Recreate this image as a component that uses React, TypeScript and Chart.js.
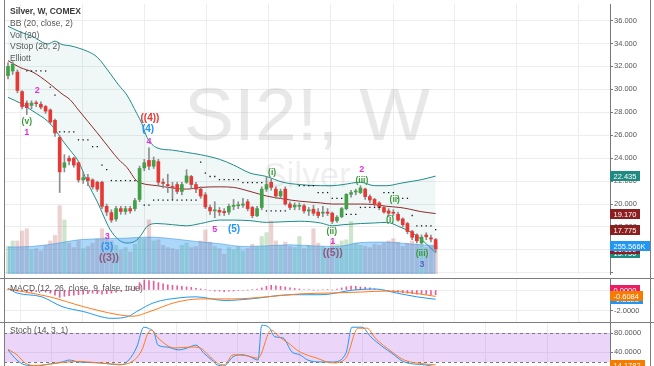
import React, { useEffect, useRef } from "react";
import { Chart, registerables } from "chart.js";

Chart.register(...registerables);

const FONT = '"Liberation Sans", Arial, sans-serif';

// ---------- weekly candles (index 0..91) ----------
const opens = [31.2, 31.6, 31.5, 29.8, 28.8, 28.6, 28.8, 28.7, 28.5, 28.2,
  27.3, 25.8, 23.2, 24.0, 24.0, 23.6, 22.1, 22.3, 22.1, 21.9,
  21.9, 19.8, 19.25, 18.7, 19.6, 19.35, 19.6, 19.6, 20.4, 23.15,
  23.8, 23.3, 23.7, 21.9, 21.7, 21.5, 21.7, 21.1, 21.9, 22.4,
  21.7, 21.3, 20.8, 19.7, 19.4, 19.45, 19.35, 19.3, 19.8, 19.85,
  19.9, 20.2, 19.7, 18.98, 19.7, 21.3, 21.9, 21.3, 20.7, 21.3,
  20.0, 19.75, 19.8, 19.85, 19.4, 19.55, 19.3, 19.2, 19.3, 19.2,
  18.55, 18.9, 19.6, 20.85, 21.05, 21.0, 21.3, 20.65, 20.4, 20.1,
  19.7, 19.4, 19.25, 19.1, 18.7, 18.3, 17.6, 17.3, 16.6, 17.3,
  17.05, 16.9];
const closes = [32.0, 32.2, 29.9, 28.5, 28.4, 28.8, 28.75, 28.45, 28.1, 27.15,
  26.2, 22.8, 23.6, 23.75, 23.4, 22.1, 22.3, 22.05, 21.5, 21.3,
  19.8, 19.3, 18.6, 19.6, 19.35, 19.6, 19.4, 20.3, 23.1, 23.6,
  23.3, 23.8, 21.9, 21.8, 21.6, 21.45, 21.1, 21.7, 22.45, 21.7,
  21.3, 20.7, 19.75, 19.4, 19.45, 19.3, 19.25, 19.8, 19.8, 19.9,
  20.0, 19.6, 18.98, 19.6, 21.3, 21.7, 21.45, 20.7, 21.1, 20.0,
  19.7, 19.9, 19.8, 19.4, 19.4, 19.2, 19.0, 19.25, 19.2, 18.5,
  18.85, 19.6, 20.85, 21.0, 21.1, 21.4, 20.65, 20.35, 20.0, 19.7,
  19.3, 19.2, 19.2, 18.6, 18.2, 17.6, 17.1, 16.8, 17.1, 17.15,
  16.95, 16.1];
const highs = [32.3, 32.4, 31.7, 29.9, 29.0, 29.0, 29.0, 28.9, 28.6, 28.3,
  27.4, 26.0, 24.3, 24.2, 24.1, 23.7, 22.8, 22.6, 22.2, 22.0,
  22.0, 20.0, 19.5, 19.8, 19.8, 19.8, 19.8, 20.5, 23.3, 23.9,
  24.9, 24.1, 23.9, 22.2, 22.6, 21.9, 21.9, 21.9, 23.0, 22.5,
  21.9, 21.5, 21.0, 19.9, 20.2, 19.7, 19.6, 20.0, 20.4, 20.2,
  20.5, 20.4, 19.8, 19.8, 21.5, 22.4, 22.2, 21.5, 21.3, 21.5,
  20.2, 20.1, 20.1, 20.0, 19.7, 19.9, 19.6, 19.8, 19.6, 19.3,
  19.0, 19.7, 20.9, 21.2, 21.3, 21.6, 21.4, 20.8, 20.5, 20.2,
  19.8, 19.6, 19.5, 19.3, 18.8, 18.4, 17.7, 17.4, 17.3, 17.5,
  17.3, 17.0];
const lows = [30.9, 31.3, 29.7, 28.3, 27.8, 28.3, 28.5, 28.3, 27.9, 27.0,
  25.9, 21.0, 22.8, 23.4, 23.2, 21.9, 21.8, 21.6, 21.3, 21.1,
  19.6, 19.0, 18.4, 18.5, 19.1, 19.1, 19.2, 19.4, 20.2, 22.9,
  23.0, 23.1, 21.6, 21.4, 21.0, 20.4, 20.9, 20.8, 21.8, 21.4,
  21.0, 20.5, 19.6, 19.1, 18.8, 19.0, 19.0, 19.1, 19.5, 19.6,
  19.7, 19.4, 18.8, 18.9, 19.5, 21.1, 21.2, 20.5, 20.5, 19.9,
  19.5, 19.5, 19.5, 19.2, 19.0, 19.0, 18.8, 18.9, 19.0, 18.3,
  18.4, 18.8, 19.5, 20.6, 20.8, 20.9, 20.4, 20.1, 19.8, 19.5,
  19.2, 18.9, 19.0, 18.5, 18.0, 17.4, 16.9, 16.6, 16.5, 16.9,
  16.7, 15.8];
const volumes = [250, 300, 300, 390, 410, 220, 230, 210, 260, 300,
  350, 620, 490, 280, 240, 300, 230, 250, 280, 320,
  410, 330, 300, 260, 220, 240, 200, 270, 330, 320,
  490, 300, 310, 260, 240, 230, 220, 260, 280, 240,
  250, 300, 400, 290, 250, 230, 180, 240, 220, 250,
  210, 230, 270, 250, 340, 375, 480, 300, 260, 290,
  250, 240, 340, 230, 260, 410, 280, 250, 230, 300,
  270, 300, 310, 475, 280, 260, 250, 240, 270, 260,
  280, 300, 320, 290, 250, 280, 300, 270, 260, 240,
  250, 256];

// ---------- Vol (20) moving average ----------
const volMaIdx = [0, 5, 10, 15, 20, 25, 30, 35, 40, 45, 50, 55, 60, 65, 70, 75, 80, 85, 91];
const volMaVals = [245, 250, 275, 310, 320, 325, 335, 320, 295, 275, 250, 255, 265, 255, 250, 285, 290, 275, 256];

// ---------- Bollinger Bands (20, close, 2) ----------
const bbIdx = [0, 2.6, 5.3, 8.5, 10, 11.5, 13.2, 15, 17, 19, 21.7, 23.5, 25.3, 27.4, 28.5, 29.6, 31.7, 35, 38, 41, 45, 48, 51.5, 55, 58.5, 62, 66.5, 69, 71.3, 75, 78, 80.6, 83.4, 85.5, 87.7, 91];
const bbUpper = [35.5, 35.0, 34.6, 33.95, 34.2, 33.9, 33.8, 33.6, 33.3, 32.8, 31.4, 30.4, 29.5, 27.9, 27.0, 25.8, 24.9, 24.7, 24.5, 24.3, 23.9, 23.4, 22.7, 22.4, 21.9, 21.7, 21.6, 21.6, 21.7, 21.9, 21.6, 21.6, 21.8, 21.95, 22.1, 22.435];
const bbBasis = [32.5, 31.9, 31.5, 30.6, 30.1, 29.6, 29.1, 28.2, 27.2, 26.2, 24.8, 23.9, 23.2, 22.0, 21.8, 21.7, 21.6, 21.4, 21.3, 21.45, 21.5, 21.45, 21.1, 20.7, 20.45, 20.25, 20.1, 20.0, 20.0, 20.0, 19.95, 19.8, 19.7, 19.55, 19.35, 19.17];
const bbLower = [29.3, 28.8, 28.1, 27.2, 26.5, 25.6, 24.7, 23.7, 21.8, 20.2, 17.8, 16.9, 16.6, 16.85, 17.4, 18.05, 18.3, 18.2, 18.1, 18.3, 18.6, 18.6, 18.55, 18.4, 18.45, 18.5, 18.35, 18.1, 18.2, 18.3, 18.35, 18.4, 18.0, 17.6, 17.0, 15.75];

// ---------- VStop (20, 2) ----------
const vstopIdx = [4, 5, 6, 7, 8, 9, 10, 11, 12, 13, 14, 15, 16, 17, 18, 19, 20, 21, 22, 23, 24, 25, 26, 27,
  29, 30, 31, 32, 33, 34, 35, 36, 37, 38, 39, 40, 41, 42, 43, 44, 45, 46, 47, 48, 49, 50, 51, 52, 53, 54,
  55, 56, 57, 58, 59, 62, 63, 64, 65, 66, 67, 68, 69, 70, 71, 72, 73, 74, 75, 76, 77, 78, 79,
  80, 81, 82, 83, 84, 85, 86, 87, 88, 89, 90, 91];
const vstopVals = [31.6, 31.6, 31.6, 31.6, 31.6, 30.2, 29.5, 26.3, 26.3, 26.3, 26.3, 25.6, 25.6, 25.6, 25.0, 25.0, 23.4, 23.0, 22.05, 22.05, 22.05, 22.05, 22.05, 22.05,
  19.9, 19.9, 20.35, 20.35, 20.35, 20.35, 20.35, 20.35, 20.35, 20.35, 20.35, 20.35, 23.65, 22.7, 22.4, 22.4, 22.13, 22.13, 22.13, 22.13, 22.13, 21.87, 21.87, 21.87, 21.87, 21.87,
  19.4, 19.4, 19.4, 19.4, 19.4, 21.6, 21.6, 21.6, 21.6, 21.0, 21.0, 21.0, 20.5, 20.5, 20.5, 19.1, 19.1, 19.1, 19.7, 19.7, 19.7, 19.7, 19.7,
  21.0, 21.0, 21.0, 20.5, 20.5, 20.5, 19.0, 18.1, 18.1, 18.1, 18.1, 17.775];

// ---------- MACD (12, 26, close, 9) ----------
const macdIdx = [0, 1.9, 7.2, 11.5, 16, 22.1, 25.7, 27.4, 31.1, 36.4, 40, 46.2, 51.5, 60.4, 66.6, 73.6, 78.1, 82.6, 87, 91];
const macdVals = [0.15, -0.28, -0.65, -1.58, -2.05, -2.7, -2.5, -2.05, -1.2, -0.75, -0.65, -1.0, -0.85, -0.45, -0.45, 0.0, 0.1, -0.28, -0.65, -0.88];
const signalIdx = [0, 3.6, 8.9, 16, 23.2, 26.6, 30.2, 35.5, 40.9, 47.9, 55.1, 62.1, 69.1, 75.3, 80.6, 86, 91];
const signalVals = [0.1, -0.19, -0.65, -1.58, -2.33, -2.5, -2.05, -1.2, -0.85, -0.85, -0.65, -0.37, -0.28, -0.19, -0.1, -0.28, -0.61];
const macdHist = [0.1, 0.05, -0.1, -0.15, -0.2,
  -0.2, -0.15, -0.1, -0.2, -0.3,
  -0.5, -0.7, -0.6, -0.55, -0.5, -0.45, -0.4, -0.35, -0.3,
  -0.35, -0.4, -0.35, -0.3, -0.2, -0.1, -0.05, 0.1, 0.3,
  0.7, 0.95, 0.9, 0.85, 0.7, 0.6, 0.5,
  0.45, 0.4, 0.35, 0.3, 0.25, 0.15, 0.1, 0.05, -0.05,
  -0.1, -0.1, -0.15, -0.1, -0.1, -0.05, -0.05, 0, 0.05, 0.1, 0.2,
  0.35, 0.45, 0.4, 0.35, 0.3, 0.2,
  0.15, 0.1, 0.05, 0.05, 0, 0, 0.05, 0.05, 0, 0.1, 0.2, 0.3,
  0.37, 0.35, 0.3, 0.25, 0.2,
  0.1, 0.05, 0, -0.05, -0.1,
  -0.2, -0.25, -0.3, -0.35, -0.4, -0.35, -0.4, -0.45, -0.45];

// ---------- Stoch (14, 3, 1) ----------
const kIdx = [0, 1.9, 3.6, 6, 9, 11.5, 13, 15.1, 19.6, 24, 25.7, 27.4, 28.9, 29.8, 31.1, 31.9, 33.8, 36.4, 38.1, 40, 41.7, 43.4, 44.5, 46, 47.9, 49.8, 51.5, 53.2, 54, 55.5, 56.8, 58.5, 60.4, 62.1, 63.8, 66.6, 69.1, 71.9, 73.2, 75.3, 77.2, 79.8, 81.7, 84.3, 88.7, 91];
const kVals = [45, 24, 14, 12, 16, 20, 24, 20, 18, 14, 24, 51, 92, 90, 80, 55, 51, 45, 49, 55, 38, 24, 14, 12, 31, 35, 31, 24, 96, 92, 72, 70, 41, 35, 24, 20, 20, 38, 92, 92, 72, 51, 38, 20, 14, 10];
const dIdx = [0, 1.9, 3.6, 6, 10, 11.5, 15.1, 19.6, 24, 26.6, 28.5, 29.8, 30.6, 31.9, 35.5, 39.1, 40.9, 42.6, 44.5, 46, 47.9, 50.7, 53.2, 56, 57.7, 59.4, 62.1, 65.7, 69.1, 71.9, 74.5, 76.4, 78.1, 81.7, 84.3, 88.7, 91];
const dVals = [46, 35, 18, 13, 17, 19, 21, 18, 15, 22, 45, 80, 86, 70, 49, 51, 49, 35, 18, 14, 35, 33, 28, 86, 72, 61, 41, 28, 18, 28, 90, 90, 70, 41, 24, 16, 14];
const stochBand = [20, 80];

// ---------- Elliott wave labels ----------
const waveTexts = ["(v)", "1", "2", "((4))", "(4)", "4", "3", "(3)", "((3))", "5", "(5)", "(i)", "(ii)", "1", "((5))", "2", "(iii)", "(ii)", "(i)", "(iii)", "3"];
const waveIdx = [4, 4, 6.2, 30.2, 29.8, 30, 21.1, 21.1, 21.5, 44, 48.1, 56.2, 68.9, 69.1, 69.1, 75.3, 75.3, 82.3, 81.3, 88.1, 88.1];
const wavePrices = [27.2, 26.2, 29.9, 27.5, 26.5, 25.45, 17.2, 16.25, 15.3, 17.8, 17.8, 22.7, 17.6, 16.7, 15.75, 23.0, 22.05, 20.4, 18.6, 15.65, 14.7];
const waveKinds = ["g", "m", "m", "r", "b", "m", "m", "b", "p", "m", "b", "g", "g", "m", "p", "m", "g", "g", "g", "g", "v"];

// ---------- texts ----------
const legendLines = ["Silver, W, COMEX", "BB (20, close, 2)", "Vol (20)", "VStop (20, 2)", "Elliott"];
const macdTitle = "MACD (12, 26, close, 9, false, true)";
const stochTitle = "Stoch (14, 3, 1)";
const watermarkMain = "SI2!, W";
const watermarkSub = "Silver";

// ---------- axis value tags ----------
const mainTagValues = [15.75, 16.1, 17.775, 19.17, 22.435];
const mainTagTexts = ["15.750", "16.100", "17.775", "19.170", "22.435"];
const mainTagKinds = ["teal", "red", "red", "red", "teal"];
const volTagValue = 255.566;
const volTagText = "255.566K";
const macdTagValues = [0.0, -0.88, -0.6084];
const macdTagTexts = ["0.0000", "-0.8823", "-0.6084"];
const macdTagKinds = ["pink", "blue", "orange"];
const stochTagValues = [14.18];
const stochTagTexts = ["14.1782"];
const stochTagKinds = ["orange"];
const MIN_PRICE_LABEL = 15;

// ---------- x grid (index positions) ----------
const gridIdx = [9.36, 22.55, 35.75, 48.94, 62.13, 75.33, 88.52, 101.71, 114.9];
const X_MIN = -0.85;
const X_MAX = 128.1;

const UP = "#43a047";
const DOWN = "#e53935";
const TAG_COLORS: Record<string, string> = {
  teal: "#1e8a82", red: "#8b1f1f", blue: "#2196f3", orange: "#f57c00", pink: "#e91e63",
};
const WAVE_STYLE: Record<string, { color: string; font: string }> = {
  g: { color: "#3a9a3a", font: `bold 8.5px ${FONT}` },
  m: { color: "#e030e0", font: `bold 9px ${FONT}` },
  b: { color: "#2196f3", font: `bold 10px ${FONT}` },
  r: { color: "#e53935", font: `bold 10px ${FONT}` },
  p: { color: "#8c5a80", font: `bold 10.5px ${FONT}` },
  v: { color: "#6a5acd", font: `bold 9px ${FONT}` },
};

const pts = (xs: number[], ys: number[]) => xs.map((x, i) => ({ x, y: ys[i] }));

function xScale(): any {
  return {
    type: "linear",
    min: X_MIN,
    max: X_MAX,
    offset: false,
    ticks: { display: false },
    grid: { color: "#ededed", drawTicks: false },
    border: { display: false },
    afterBuildTicks: (s: any) => {
      s.ticks = gridIdx.map((v) => ({ value: v }));
    },
    afterFit: (s: any) => {
      s.height = 0;
      s.paddingLeft = 0;
      s.paddingRight = 0;
    },
  };
}

function yScale(min: number, max: number, step: number, decimals: number, minLabel?: number): any {
  return {
    position: "right",
    min,
    max,
    ticks: {
      stepSize: step,
      includeBounds: false,
      padding: 1,
      color: "#555",
      font: { size: 7.5, family: FONT },
      callback: (v: any) => (minLabel !== undefined && Number(v) < minLabel ? "" : Number(v).toFixed(decimals)),
    },
    grid: { color: "#ededed", tickLength: 3, tickColor: "#777" },
    border: { display: true, color: "#777" },
    afterFit: (s: any) => {
      s.width = 44;
      s.paddingTop = 0;
      s.paddingBottom = 0;
    },
  };
}

function drawTag(chart: any, scaleId: string, value: number, text: string, bg: string) {
  const ctx = chart.ctx;
  const s = chart.scales[scaleId];
  const y = Math.round(s.getPixelForValue(value));
  ctx.save();
  ctx.font = `7.5px ${FONT}`;
  const w = Math.ceil(ctx.measureText(text).width) + 7;
  const x0 = chart.chartArea.right;
  ctx.fillStyle = bg;
  ctx.fillRect(x0, y - 5, w, 10);
  ctx.fillStyle = "#fff";
  ctx.textBaseline = "middle";
  ctx.textAlign = "left";
  ctx.fillText(text, x0 + 3.5, y + 0.5);
  ctx.restore();
}

function titlePlugin(lines: string[], firstBold: boolean, y0: number, step: number) {
  return {
    id: "titles",
    afterDraw(chart: any) {
      const ctx = chart.ctx;
      ctx.save();
      ctx.textBaseline = "middle";
      ctx.textAlign = "left";
      lines.forEach((t, i) => {
        ctx.font = i === 0 && firstBold ? `bold 8.5px ${FONT}` : `8.5px ${FONT}`;
        ctx.fillStyle = i === 0 && firstBold ? "#3a3a3a" : "#555";
        ctx.fillText(t, 10, y0 + i * step);
      });
      ctx.restore();
    },
  };
}

function mainConfig(): any {
  const n = closes.length;
  const idx = Array.from({ length: n }, (_, i) => i);
  return {
    type: "bar",
    data: {
      datasets: [
        {
          type: "line", data: pts(bbIdx, bbUpper), borderColor: "#218a8a", borderWidth: 1,
          pointRadius: 0, cubicInterpolationMode: "monotone", fill: "+1",
          backgroundColor: "rgba(25,135,135,0.07)", order: 10,
        },
        {
          type: "line", data: pts(bbIdx, bbLower), borderColor: "#218a8a", borderWidth: 1,
          pointRadius: 0, cubicInterpolationMode: "monotone", fill: false, order: 10,
        },
        {
          type: "bar", yAxisID: "yVol", data: idx.map((i) => ({ x: i, y: volumes[i] })),
          backgroundColor: idx.map((i) => (closes[i] >= opens[i] ? "rgba(90,170,90,0.3)" : "rgba(200,110,110,0.32)")),
          barThickness: 3.5, grouped: false, order: 9,
        },
        {
          type: "line", yAxisID: "yVol", data: pts(volMaIdx, volMaVals), borderColor: "rgba(66,150,220,0.55)",
          borderWidth: 1, pointRadius: 0, fill: "origin", backgroundColor: "rgba(33,150,243,0.38)",
          cubicInterpolationMode: "monotone", order: 8,
        },
        {
          type: "line", data: pts(bbIdx, bbBasis), borderColor: "#8e2b2b", borderWidth: 1,
          pointRadius: 0, cubicInterpolationMode: "monotone", fill: false, order: 7,
        },
        {
          type: "bar", data: idx.map((i) => ({ x: i, y: [lows[i], highs[i]] })),
          backgroundColor: "#8d8d8d", barThickness: 1, grouped: false, order: 3,
        },
        {
          type: "bar", data: idx.map((i) => ({ x: i, y: [opens[i], closes[i]] })),
          backgroundColor: idx.map((i) => (closes[i] >= opens[i] ? UP : DOWN)),
          barThickness: 3, minBarLength: 1, grouped: false, order: 2,
        },
        {
          type: "line", data: pts(vstopIdx, vstopVals), showLine: false, pointRadius: 0.9,
          pointStyle: "rect", pointBackgroundColor: "#111", pointBorderWidth: 0, order: 1,
        },
      ],
    },
    options: {
      responsive: false,
      animation: false,
      devicePixelRatio: 1,
      layout: { padding: { left: 4, right: 0, top: 0, bottom: 0 } },
      plugins: { legend: { display: false }, tooltip: { enabled: false } },
      scales: {
        x: xScale(),
        y: yScale(13.9, 37.44, 2, 3, MIN_PRICE_LABEL),
        yVol: { display: false, min: 0, max: 2450 },
      },
    },
    plugins: [
      {
        id: "watermark",
        beforeDatasetsDraw(chart: any) {
          const ctx = chart.ctx;
          const a = chart.chartArea;
          const cx = (a.left + a.right) / 2;
          ctx.save();
          ctx.textAlign = "center";
          ctx.textBaseline = "middle";
          ctx.fillStyle = "rgba(120,120,120,0.17)";
          ctx.font = `75px ${FONT}`;
          ctx.fillText(watermarkMain, cx, 119);
          ctx.fillStyle = "rgba(120,120,120,0.12)";
          ctx.font = `35px ${FONT}`;
          ctx.fillText(watermarkSub, cx, 177);
          ctx.restore();
        },
      },
      {
        id: "waves",
        afterDatasetsDraw(chart: any) {
          const ctx = chart.ctx;
          const xs = chart.scales.x;
          const ys = chart.scales.y;
          ctx.save();
          ctx.textAlign = "center";
          ctx.textBaseline = "middle";
          waveTexts.forEach((t, i) => {
            const st = WAVE_STYLE[waveKinds[i]];
            ctx.font = st.font;
            ctx.fillStyle = st.color;
            ctx.fillText(t, xs.getPixelForValue(waveIdx[i]), ys.getPixelForValue(wavePrices[i]));
          });
          ctx.restore();
        },
      },
      titlePlugin(legendLines, true, 12, 11.6),
      {
        id: "tags",
        afterDraw(chart: any) {
          mainTagValues.forEach((v, i) => drawTag(chart, "y", v, mainTagTexts[i], TAG_COLORS[mainTagKinds[i]]));
          drawTag(chart, "yVol", volTagValue, volTagText, TAG_COLORS.blue);
        },
      },
    ],
  };
}

function macdConfig(): any {
  return {
    type: "bar",
    data: {
      datasets: [
        {
          type: "bar", data: macdHist.map((v, i) => ({ x: i, y: v })),
          backgroundColor: "rgba(226,40,120,0.75)", barThickness: 1, grouped: false, order: 3,
        },
        {
          type: "line", data: pts(macdIdx, macdVals), borderColor: "#2196f3", borderWidth: 1,
          pointRadius: 0, cubicInterpolationMode: "monotone", order: 2,
        },
        {
          type: "line", data: pts(signalIdx, signalVals), borderColor: "#ff7a1a", borderWidth: 1,
          pointRadius: 0, cubicInterpolationMode: "monotone", order: 1,
        },
      ],
    },
    options: {
      responsive: false,
      animation: false,
      devicePixelRatio: 1,
      layout: { padding: { left: 4, right: 0, top: 0, bottom: 0 } },
      plugins: { legend: { display: false }, tooltip: { enabled: false } },
      scales: { x: xScale(), y: yScale(-3.05, 1.05, 2, 4) },
    },
    plugins: [
      titlePlugin([macdTitle], false, 10, 0),
      {
        id: "tags",
        afterDraw(chart: any) {
          macdTagValues.forEach((v, i) => drawTag(chart, "y", v, macdTagTexts[i], TAG_COLORS[macdTagKinds[i]]));
        },
      },
    ],
  };
}

function stochConfig(): any {
  return {
    type: "line",
    data: {
      datasets: [
        {
          data: pts(kIdx, kVals), borderColor: "#2196f3", borderWidth: 1,
          pointRadius: 0, cubicInterpolationMode: "monotone", order: 2,
        },
        {
          data: pts(dIdx, dVals), borderColor: "#ff7a1a", borderWidth: 1,
          pointRadius: 0, cubicInterpolationMode: "monotone", order: 1,
        },
      ],
    },
    options: {
      responsive: false,
      animation: false,
      devicePixelRatio: 1,
      layout: { padding: { left: 4, right: 0, top: 0, bottom: 0 } },
      plugins: { legend: { display: false }, tooltip: { enabled: false } },
      scales: { x: xScale(), y: yScale(11.7, 100.7, 40, 4) },
    },
    plugins: [
      {
        id: "band",
        beforeDatasetsDraw(chart: any) {
          const ctx = chart.ctx;
          const a = chart.chartArea;
          const s = chart.scales.y;
          const yHi = s.getPixelForValue(stochBand[1]);
          const yLo = s.getPixelForValue(stochBand[0]);
          ctx.save();
          ctx.fillStyle = "rgba(170,80,230,0.24)";
          ctx.fillRect(a.left, yHi, a.right - a.left, yLo - yHi);
          ctx.strokeStyle = "#7a7a7a";
          ctx.lineWidth = 1;
          ctx.setLineDash([3, 3]);
          [yHi, yLo].forEach((y) => {
            ctx.beginPath();
            ctx.moveTo(a.left, Math.round(y) + 0.5);
            ctx.lineTo(a.right, Math.round(y) + 0.5);
            ctx.stroke();
          });
          ctx.restore();
        },
      },
      titlePlugin([stochTitle], false, 8, 0),
      {
        id: "tags",
        afterDraw(chart: any) {
          stochTagValues.forEach((v, i) => drawTag(chart, "y", v, stochTagTexts[i], TAG_COLORS[stochTagKinds[i]]));
        },
      },
    ],
  };
}

export default function App() {
  const mainRef = useRef<HTMLCanvasElement>(null);
  const macdRef = useRef<HTMLCanvasElement>(null);
  const stochRef = useRef<HTMLCanvasElement>(null);

  useEffect(() => {
    document.body.style.margin = "0";
    const charts: Chart[] = [];
    if (mainRef.current) charts.push(new Chart(mainRef.current, mainConfig()));
    if (macdRef.current) charts.push(new Chart(macdRef.current, macdConfig()));
    if (stochRef.current) charts.push(new Chart(stochRef.current, stochConfig()));
    return () => charts.forEach((c) => c.destroy());
  }, []);

  const line = (style: React.CSSProperties) => (
    <div style={{ position: "absolute", background: "#7d7d7d", ...style }} />
  );

  return (
    <div style={{ position: "relative", width: 654, height: 366, background: "#fff", overflow: "hidden" }}>
      <canvas ref={mainRef} width={654} height={278} style={{ position: "absolute", left: 0, top: 0 }} />
      <canvas ref={macdRef} width={654} height={43} style={{ position: "absolute", left: 0, top: 279 }} />
      <canvas ref={stochRef} width={654} height={43} style={{ position: "absolute", left: 0, top: 323 }} />
      {line({ left: 0, top: 278, width: 654, height: 1 })}
      {line({ left: 0, top: 322, width: 654, height: 1 })}
      {line({ left: 4, top: 0, width: 1, height: 366 })}
      {line({ left: 650, top: 0, width: 1, height: 366 })}
    </div>
  );
}
